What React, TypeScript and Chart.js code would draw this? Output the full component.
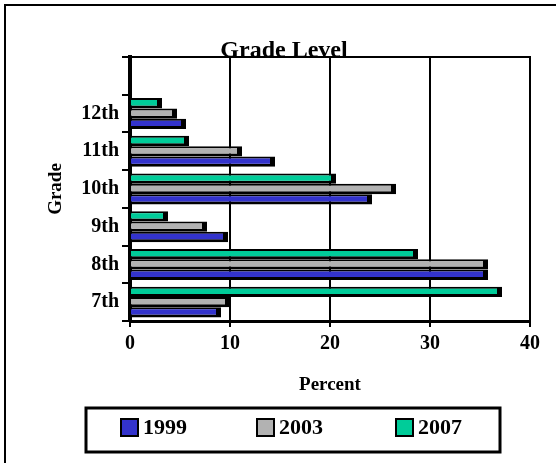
import React, { useEffect, useRef } from 'react';
import { Chart, registerables } from 'chart.js';

Chart.register(...registerables);

const categories = ['7th', '8th', '9th', '10th', '11th', '12th', ''];
const seriesLabels = ['1999', '2003', '2007'];
const values1999 = [9.1, 35.8, 9.8, 24.2, 14.5, 5.6, null];
const values2003 = [10.0, 35.8, 7.7, 26.6, 11.2, 4.7, null];
const values2007 = [37.2, 28.8, 3.8, 20.6, 5.9, 3.2, null];
const seriesColors = ['#3333CC', '#B2B2B2', '#00CC99'];
const xMin = 0;
const xMax = 40;
const xStep = 10;

const FONT = "'Liberation Serif', 'Times New Roman', serif";

const decorPlugin = {
  id: 'decor',
  afterDraw(chart: any) {
    const ctx = chart.ctx;
    const { left, top, right } = chart.chartArea;
    ctx.save();
    ctx.strokeStyle = '#000';
    // outer frame
    ctx.lineWidth = 2;
    ctx.strokeRect(5, 5, 560, 470);
    // plot top line
    ctx.beginPath();
    ctx.moveTo(left, top);
    ctx.lineTo(right + 1, top);
    ctx.stroke();
    // legend box
    ctx.lineWidth = 3;
    ctx.strokeRect(86, 408, 414, 44);
    const xs = [121, 257, 396];
    ctx.font = `bold 22px ${FONT}`;
    ctx.textBaseline = 'middle';
    ctx.textAlign = 'left';
    seriesLabels.forEach((lab, i) => {
      const ds = chart.data.datasets.find((d: any) => d.label === lab);
      const x = xs[i];
      ctx.fillStyle = ds.backgroundColor;
      ctx.fillRect(x, 419, 17, 17);
      ctx.lineWidth = 2;
      ctx.strokeRect(x, 419, 17, 17);
      ctx.fillStyle = '#000';
      ctx.fillText(lab, x + 22, 428);
    });
    ctx.restore();
  },
};

export default function App() {
  const ref = useRef<HTMLCanvasElement | null>(null);
  useEffect(() => {
    if (!ref.current) return;
    const mk = (label: string, data: (number | null)[], color: string) => ({
      label,
      data,
      backgroundColor: color,
      borderColor: '#000',
      borderWidth: { top: 2, right: 5, bottom: 3, left: 0 },
      borderSkipped: false,
      categoryPercentage: 0.82,
      barPercentage: 1.0,
    });
    const chart = new Chart(ref.current, {
      type: 'bar',
      data: {
        labels: categories,
        datasets: [
          mk(seriesLabels[2], values2007, seriesColors[2]),
          mk(seriesLabels[1], values2003, seriesColors[1]),
          mk(seriesLabels[0], values1999, seriesColors[0]),
        ],
      },
      options: {
        indexAxis: 'y',
        responsive: false,
        animation: false,
        layout: { padding: { left: 38, right: 26, top: 0, bottom: 62 } },
        plugins: {
          legend: { display: false },
          tooltip: { enabled: false },
          title: {
            display: true,
            text: 'Grade Level',
            color: '#000',
            font: { family: FONT, size: 24, weight: 'bold' },
            padding: { top: 36.6, bottom: -8.4 },
          },
        },
        scales: {
          x: {
            type: 'linear',
            min: xMin,
            max: xMax,
            ticks: {
              stepSize: xStep,
              color: '#000',
              padding: 5,
              font: { family: FONT, size: 20, weight: 'bold' },
            },
            grid: { color: '#000', lineWidth: 2, tickLength: 6 },
            border: { color: '#000', width: 3 },
            title: {
              display: true,
              text: 'Percent',
              color: '#000',
              font: { family: FONT, size: 19, weight: 'bold' },
              padding: { top: 0, bottom: 5 },
            },
            afterFit: (s: any) => { s.height = 80; },
          },
          y: {
            type: 'category',
            reverse: true,
            ticks: {
              color: '#000',
              padding: 3,
              font: { family: FONT, size: 20, weight: 'bold' },
            },
            grid: { color: '#000', lineWidth: 2, drawOnChartArea: false, tickLength: 8, offset: true },
            border: { color: '#000', width: 4 },
            title: {
              display: true,
              text: 'Grade',
              color: '#000',
              font: { family: FONT, size: 19, weight: 'bold' },
              padding: { top: 7, bottom: 0 },
            },
            afterFit: (s: any) => { s.width = 92; },
          },
        },
      },
      plugins: [decorPlugin],
    } as any);
    return () => chart.destroy();
  }, []);
  return (
    <div style={{ position: 'absolute', left: 0, top: 0, width: 556, height: 463, background: '#fff' }}>
      <canvas ref={ref} width={556} height={463} style={{ display: 'block' }} />
    </div>
  );
}
